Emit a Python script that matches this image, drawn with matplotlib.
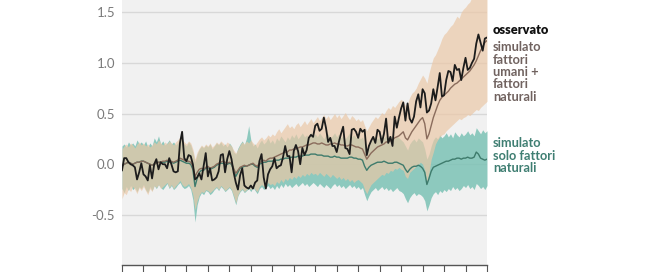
import numpy as np
import matplotlib
matplotlib.use("Agg")
import matplotlib.pyplot as plt

plt.rcParams['font.family'] = ['Lato', 'DejaVu Sans']
plt.rcParams['axes.unicode_minus'] = False

years = list(range(1850, 2021))

observed = [
    -0.06, 0.06, 0.06, 0.02, 0.00, -0.01, -0.03, -0.15, -0.08, 0.01,
    -0.10, -0.12, -0.16, -0.01, -0.14, 0.00, 0.05, -0.05, 0.02, 0.00,
    0.00, -0.04, 0.06, 0.00, -0.07, -0.08, -0.07, 0.21, 0.32, 0.06,
    0.03, 0.09, 0.08, 0.00, -0.15, -0.13, -0.09, -0.15, -0.02, 0.11,
    -0.12, -0.04, -0.16, -0.15, -0.13, -0.07, 0.09, 0.10, -0.08, 0.05,
    0.13, 0.05, -0.08, -0.18, -0.25, -0.11, -0.04, -0.21, -0.23, -0.24,
    -0.21, -0.24, -0.18, -0.16, 0.03, 0.10, -0.13, -0.24, -0.10, -0.05,
    -0.02, 0.06, -0.04, -0.02, -0.01, 0.07, 0.18, 0.08, 0.08, -0.08,
    0.13, 0.19, 0.13, 0.00, 0.16, 0.09, 0.14, 0.26, 0.29, 0.27,
    0.38, 0.40, 0.33, 0.35, 0.46, 0.36, 0.22, 0.26, 0.18, 0.18,
    0.12, 0.22, 0.30, 0.37, 0.16, 0.15, 0.10, 0.34, 0.35, 0.32,
    0.26, 0.35, 0.32, 0.34, 0.09, 0.18, 0.23, 0.27, 0.21, 0.34,
    0.32, 0.21, 0.30, 0.45, 0.21, 0.27, 0.18, 0.47, 0.36, 0.46,
    0.55, 0.61, 0.43, 0.60, 0.45, 0.41, 0.47, 0.62, 0.69, 0.56,
    0.74, 0.70, 0.51, 0.53, 0.60, 0.74, 0.63, 0.76, 0.90, 0.67,
    0.68, 0.83, 0.92, 0.91, 0.82, 0.98, 0.93, 0.94, 0.83, 0.95,
    1.05, 0.93, 0.95, 1.00, 1.04, 1.19, 1.28, 1.20, 1.12, 1.24,
    1.25,
]

human_mean = [
    -0.02, 0.00, 0.01, 0.02, 0.01, 0.00, 0.01, 0.02, 0.02, 0.03,
    0.03, 0.02, 0.01, 0.00, -0.01, 0.00, 0.01, 0.02, 0.02, 0.03,
    0.03, 0.04, 0.03, 0.03, 0.02, 0.03, 0.04, 0.06, 0.05, 0.04,
    0.03, 0.03, 0.02, -0.02, -0.12, -0.08, -0.05, -0.04, -0.05, -0.03,
    -0.02, -0.04, -0.03, -0.02, 0.00, 0.01, 0.02, 0.03, 0.02, 0.01,
    0.02, 0.01, -0.04, -0.09, -0.06, -0.03, -0.02, -0.01, -0.02, -0.01,
    0.00, 0.01, -0.01, -0.02, 0.01, 0.03, 0.04, 0.03, 0.05, 0.06,
    0.06, 0.07, 0.08, 0.09, 0.10, 0.11, 0.12, 0.12, 0.14, 0.14,
    0.15, 0.15, 0.16, 0.17, 0.17, 0.18, 0.19, 0.19, 0.20, 0.21,
    0.21, 0.20, 0.20, 0.21, 0.20, 0.19, 0.19, 0.20, 0.20, 0.21,
    0.20, 0.20, 0.19, 0.19, 0.18, 0.18, 0.19, 0.19, 0.18, 0.17,
    0.17, 0.16, 0.15, 0.10, 0.05, 0.08, 0.11, 0.13, 0.15, 0.17,
    0.18, 0.19, 0.20, 0.22, 0.22, 0.23, 0.24, 0.26, 0.27, 0.28,
    0.30, 0.32, 0.26, 0.24, 0.28, 0.32, 0.35, 0.38, 0.41, 0.44,
    0.46, 0.40, 0.25, 0.30, 0.38, 0.46, 0.52, 0.58, 0.63, 0.66,
    0.68, 0.70, 0.72, 0.75, 0.77, 0.79, 0.80, 0.82, 0.84, 0.86,
    0.88, 0.90, 0.92, 0.95, 0.98, 1.02, 1.07, 1.12, 1.16, 1.20,
    1.22,
]

human_low = [
    -0.34, -0.28, -0.30, -0.24, -0.27, -0.22, -0.25, -0.29, -0.23, -0.26,
    -0.22, -0.26, -0.30, -0.24, -0.27, -0.21, -0.23, -0.20, -0.24, -0.22,
    -0.20, -0.18, -0.23, -0.20, -0.24, -0.21, -0.19, -0.16, -0.20, -0.22,
    -0.21, -0.19, -0.23, -0.30, -0.45, -0.36, -0.30, -0.27, -0.28, -0.25,
    -0.26, -0.28, -0.26, -0.24, -0.22, -0.25, -0.21, -0.23, -0.26, -0.24,
    -0.22, -0.25, -0.31, -0.38, -0.30, -0.26, -0.24, -0.27, -0.25, -0.23,
    -0.25, -0.22, -0.25, -0.27, -0.22, -0.20, -0.22, -0.21, -0.18, -0.20,
    -0.19, -0.21, -0.17, -0.19, -0.15, -0.18, -0.14, -0.16, -0.13, -0.15,
    -0.12, -0.14, -0.11, -0.13, -0.10, -0.12, -0.09, -0.11, -0.08, -0.10,
    -0.09, -0.11, -0.08, -0.10, -0.12, -0.09, -0.11, -0.13, -0.10, -0.12,
    -0.14, -0.12, -0.15, -0.13, -0.16, -0.14, -0.17, -0.15, -0.18, -0.16,
    -0.15, -0.17, -0.19, -0.25, -0.29, -0.24, -0.20, -0.18, -0.16, -0.14,
    -0.12, -0.10, -0.11, -0.08, -0.09, -0.06, -0.07, -0.04, -0.05, -0.03,
    -0.05, -0.06, -0.12, -0.14, -0.08, -0.06, -0.04, -0.02, 0.00, 0.02,
    0.00, -0.06, -0.17, -0.08, 0.05, 0.12, 0.20, 0.24, 0.27, 0.29,
    0.30, 0.33, 0.35, 0.37, 0.39, 0.41, 0.43, 0.45, 0.44, 0.46,
    0.47, 0.49, 0.48, 0.50, 0.52, 0.54, 0.53, 0.56, 0.58, 0.60,
    0.62,
]

human_high = [
    0.15, 0.18, 0.20, 0.17, 0.21, 0.19, 0.16, 0.20, 0.22, 0.19,
    0.21, 0.18, 0.20, 0.17, 0.19, 0.22, 0.20, 0.24, 0.21, 0.19,
    0.22, 0.20, 0.23, 0.21, 0.19, 0.22, 0.24, 0.27, 0.25, 0.22,
    0.20, 0.23, 0.21, 0.15, 0.05, 0.12, 0.16, 0.19, 0.17, 0.20,
    0.18, 0.21, 0.17, 0.19, 0.22, 0.20, 0.23, 0.21, 0.19, 0.22,
    0.20, 0.18, 0.14, 0.11, 0.15, 0.19, 0.22, 0.20, 0.23, 0.21,
    0.24, 0.21, 0.19, 0.22, 0.25, 0.27, 0.24, 0.26, 0.29, 0.27,
    0.30, 0.28, 0.32, 0.35, 0.31, 0.34, 0.37, 0.40, 0.36, 0.38,
    0.35, 0.39, 0.41, 0.37, 0.40, 0.43, 0.39, 0.42, 0.45, 0.41,
    0.44, 0.47, 0.43, 0.46, 0.49, 0.45, 0.48, 0.44, 0.47, 0.50,
    0.46, 0.49, 0.45, 0.48, 0.51, 0.47, 0.44, 0.48, 0.46, 0.43,
    0.45, 0.42, 0.44, 0.38, 0.33, 0.37, 0.41, 0.44, 0.47, 0.45,
    0.48, 0.51, 0.49, 0.53, 0.56, 0.54, 0.58, 0.56, 0.59, 0.62,
    0.64, 0.62, 0.58, 0.60, 0.66, 0.70, 0.72, 0.75, 0.80, 0.84,
    0.88, 0.85, 0.80, 0.90, 0.98, 1.05, 1.08, 1.13, 1.18, 1.24,
    1.28, 1.30, 1.33, 1.36, 1.38, 1.42, 1.46, 1.44, 1.50, 1.53,
    1.55, 1.58, 1.60, 1.65, 1.68, 1.72, 1.75, 1.78, 1.80, 1.82,
    1.85,
]

natural_mean = [
    -0.02, 0.00, 0.01, 0.02, 0.01, 0.00, 0.01, 0.02, 0.02, 0.03,
    0.03, 0.02, 0.01, 0.00, -0.01, 0.00, 0.01, 0.02, 0.02, 0.02,
    0.02, 0.03, 0.02, 0.02, 0.01, 0.02, 0.03, 0.04, 0.03, 0.02,
    0.01, 0.01, 0.00, -0.05, -0.22, -0.14, -0.08, -0.06, -0.06, -0.04,
    -0.03, -0.05, -0.04, -0.03, -0.01, 0.00, 0.01, 0.01, 0.00, 0.00,
    0.01, 0.00, -0.06, -0.12, -0.08, -0.04, -0.03, -0.02, -0.02, -0.01,
    0.00, 0.00, -0.02, -0.03, 0.00, 0.01, 0.02, 0.02, 0.03, 0.03,
    0.03, 0.04, 0.04, 0.04, 0.05, 0.05, 0.06, 0.06, 0.06, 0.07,
    0.07, 0.07, 0.08, 0.08, 0.08, 0.09, 0.09, 0.09, 0.10, 0.10,
    0.10, 0.09, 0.09, 0.09, 0.08, 0.08, 0.08, 0.07, 0.07, 0.08,
    0.07, 0.07, 0.06, 0.06, 0.06, 0.06, 0.07, 0.07, 0.06, 0.06,
    0.05, 0.05, 0.04, -0.02, -0.06, -0.03, -0.01, 0.00, 0.01, 0.02,
    0.02, 0.02, 0.03, 0.02, 0.01, 0.01, 0.01, 0.02, 0.02, 0.01,
    0.00, -0.01, -0.05, -0.08, -0.05, -0.03, -0.02, -0.02, -0.01, -0.02,
    -0.04, -0.08, -0.20, -0.14, -0.07, -0.03, -0.02, -0.01, 0.00, 0.01,
    0.02, 0.03, 0.03, 0.04, 0.05, 0.05, 0.06, 0.06, 0.05, 0.06,
    0.06, 0.07, 0.06, 0.06, 0.07, 0.12, 0.10, 0.06, 0.05, 0.04,
    0.05,
]

natural_low = [
    -0.24, -0.28, -0.22, -0.26, -0.21, -0.25, -0.23, -0.27, -0.22, -0.24,
    -0.20, -0.25, -0.28, -0.22, -0.26, -0.21, -0.24, -0.20, -0.23, -0.25,
    -0.22, -0.19, -0.24, -0.21, -0.25, -0.23, -0.20, -0.18, -0.22, -0.24,
    -0.23, -0.21, -0.25, -0.35, -0.57, -0.40, -0.32, -0.28, -0.30, -0.26,
    -0.27, -0.30, -0.28, -0.25, -0.23, -0.26, -0.22, -0.24, -0.27, -0.25,
    -0.23, -0.26, -0.33, -0.40, -0.31, -0.27, -0.25, -0.28, -0.26, -0.24,
    -0.27, -0.23, -0.26, -0.29, -0.24, -0.22, -0.25, -0.23, -0.21, -0.24,
    -0.22, -0.25, -0.21, -0.24, -0.20, -0.23, -0.19, -0.22, -0.20, -0.23,
    -0.21, -0.19, -0.22, -0.20, -0.18, -0.21, -0.19, -0.22, -0.20, -0.18,
    -0.20, -0.22, -0.19, -0.21, -0.23, -0.20, -0.22, -0.24, -0.21, -0.19,
    -0.22, -0.20, -0.23, -0.21, -0.24, -0.22, -0.20, -0.23, -0.21, -0.24,
    -0.22, -0.25, -0.23, -0.30, -0.36, -0.31, -0.27, -0.25, -0.23, -0.26,
    -0.24, -0.22, -0.25, -0.23, -0.26, -0.24, -0.27, -0.25, -0.23, -0.26,
    -0.27, -0.29, -0.34, -0.38, -0.33, -0.30, -0.28, -0.31, -0.29, -0.30,
    -0.32, -0.36, -0.46, -0.40, -0.33, -0.29, -0.27, -0.30, -0.26, -0.28,
    -0.25, -0.27, -0.24, -0.26, -0.22, -0.25, -0.23, -0.26, -0.24, -0.21,
    -0.23, -0.20, -0.24, -0.22, -0.25, -0.19, -0.21, -0.24, -0.22, -0.25,
    -0.21,
]

natural_high = [
    0.18, 0.20, 0.17, 0.22, 0.19, 0.21, 0.18, 0.24, 0.20, 0.22,
    0.19, 0.23, 0.17, 0.21, 0.18, 0.26, 0.22, 0.28, 0.20, 0.23,
    0.19, 0.21, 0.24, 0.20, 0.22, 0.19, 0.21, 0.25, 0.22, 0.20,
    0.18, 0.22, 0.19, 0.12, 0.02, 0.10, 0.15, 0.18, 0.16, 0.19,
    0.17, 0.20, 0.15, 0.18, 0.21, 0.19, 0.22, 0.18, 0.20, 0.17,
    0.21, 0.18, 0.12, 0.10, 0.16, 0.20, 0.23, 0.19, 0.26, 0.38,
    0.24, 0.18, 0.20, 0.16, 0.21, 0.24, 0.20, 0.22, 0.26, 0.21,
    0.24, 0.20, 0.26, 0.23, 0.28, 0.25, 0.22, 0.27, 0.24, 0.29,
    0.26, 0.30, 0.25, 0.28, 0.31, 0.27, 0.29, 0.26, 0.32, 0.28,
    0.30, 0.27, 0.31, 0.28, 0.25, 0.29, 0.30, 0.26, 0.28, 0.31,
    0.27, 0.30, 0.26, 0.29, 0.25, 0.28, 0.31, 0.27, 0.29, 0.26,
    0.28, 0.25, 0.27, 0.20, 0.14, 0.19, 0.23, 0.26, 0.28, 0.25,
    0.27, 0.30, 0.26, 0.28, 0.24, 0.27, 0.29, 0.25, 0.28, 0.26,
    0.24, 0.22, 0.18, 0.14, 0.20, 0.23, 0.25, 0.22, 0.26, 0.24,
    0.22, 0.15, 0.05, 0.10, 0.18, 0.24, 0.27, 0.25, 0.29, 0.26,
    0.28, 0.31, 0.27, 0.30, 0.26, 0.32, 0.29, 0.27, 0.31, 0.28,
    0.30, 0.33, 0.29, 0.31, 0.28, 0.36, 0.33, 0.30, 0.34, 0.31,
    0.33,
]

y_ticks = [-0.5, 0.0, 0.5, 1.0, 1.5]
y_tick_labels = ["-0.5", "0.0", "0.5", "1.0", "1.5"]
x_ticks = list(range(1850, 2021, 10))

label_obs = "osservato"
label_human = ["simulato", "fattori", "umani +", "fattori", "naturali"]
label_nat = ["simulato", "solo fattori", "naturali"]

W, H = 669, 272
fig = plt.figure(figsize=(W / 100, H / 100), dpi=100)
fig.patch.set_facecolor("white")
ax = fig.add_axes([122 / W, 1 - 265 / H, (487 - 122) / W, 265 / H])
ax.set_facecolor("#f1f1f1")

ax.fill_between(years, natural_low, natural_high, color="#7cc2b5", alpha=0.85,
                linewidth=0, zorder=2)
ax.fill_between(years, human_low, human_high, color="#ebc8a7", alpha=0.7,
                linewidth=0, zorder=3)
ax.plot(years, natural_mean, color="#3e7b6c", lw=1.0, zorder=4)
ax.plot(years, human_mean, color="#8a6c5c", lw=1.0, zorder=4)
ax.plot(years, observed, color="#1c1c1c", lw=1.3, zorder=5)

ax.set_xlim(1850, 2020)
ax.set_ylim(-0.994, 1.62)
ax.set_yticks(y_ticks)
ax.set_yticklabels(y_tick_labels)
ax.set_xticks(x_ticks)
ax.set_xticklabels([])
ax.grid(axis="y", color="#d8d8d8", lw=1.0, zorder=1)
ax.set_axisbelow(True)

for s in ["top", "right", "left"]:
    ax.spines[s].set_visible(False)
ax.spines["bottom"].set_color("#555555")
ax.spines["bottom"].set_linewidth(1.0)
ax.tick_params(axis="x", direction="out", length=7, width=0.8, color="#555555")
ax.tick_params(axis="y", length=0, pad=5, labelsize=9.5, labelcolor="#7a7a7a")

def place(xp, yp, s, color, weight="bold"):
    fig.text(xp / W, 1 - yp / H, s, color=color, fontsize=9.2,
             fontweight=weight, ha="left", va="center")

place(493, 30, label_obs, "#111111", "heavy")
for i, s in enumerate(label_human):
    place(493, 47 + 12.5 * i, s, "#70625f")
for i, s in enumerate(label_nat):
    place(493, 143 + 12.5 * i, s, "#3f7e72")

fig.savefig("out.png", dpi=100, facecolor="white")
